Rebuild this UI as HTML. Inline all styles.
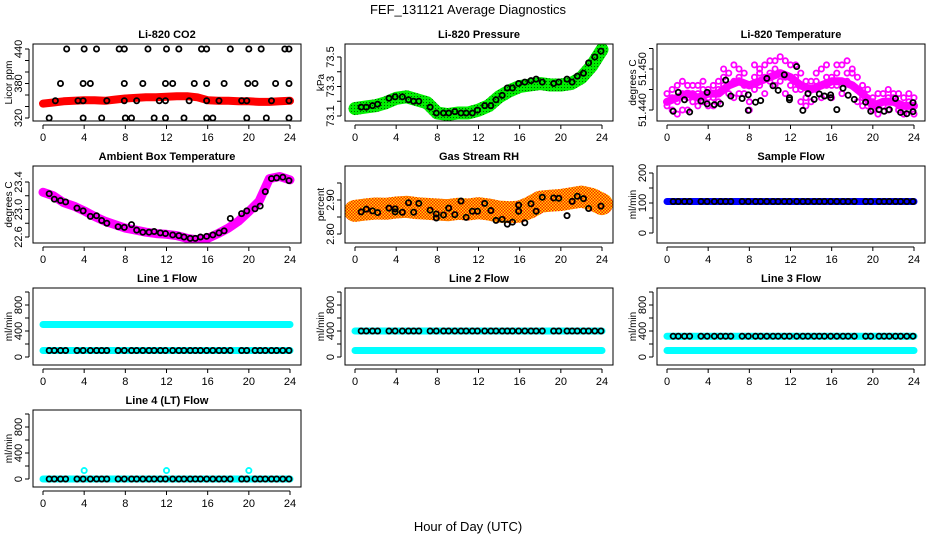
<!DOCTYPE html>
<html><head><meta charset="utf-8">
<style>
body{margin:0;background:#fff;}
svg{display:block;font-family:"Liberation Sans",Arial,sans-serif;}
.t{font-size:11px;font-weight:bold;text-anchor:middle;}
.tk{font-size:11px;}
</style></head>
<body>
<svg id="chart" width="936" height="540" viewBox="0 0 936 540">
<defs>
<pattern id="chk" width="3" height="3" patternUnits="userSpaceOnUse"><rect width="3" height="3" fill="#ffd700"/><rect width="1.5" height="1.5" fill="#ff2000"/><rect x="1.5" y="1.5" width="1.5" height="1.5" fill="#ff2000"/></pattern>
<pattern id="gdot" width="3" height="3" patternUnits="userSpaceOnUse"><rect width="3" height="3" fill="#00ee00"/><rect width="1" height="1" fill="#006000"/></pattern>
</defs>
<text x="468" y="14" font-size="13" text-anchor="middle">FEF_131121  Average Diagnostics</text>
<text x="468" y="531" font-size="13" text-anchor="middle">Hour of Day (UTC)</text>
</svg>
<script>
// ---- data ----
const hoursH = [0,1,2,3,4,5,6,7,8,9,10,11,12,13,14,15,16,17,18,19,20,21,22,23,24];
const co2Band = [345,347,349,350,351,351,350,352,354,355,356,356,357,358,358,356,351,350,350,349,349,348,348,349,350];
const co2Hi = [2.3,4,5.2,7.4,7.9,10.2,12,13.2,15.4,15.9,18.2,20,21.2,23.5,23.9];
const co2Mid = [1.7,3.9,4.6,7.9,9.7,11.9,12.6,14.7,15.9,17.6,19.9,20.6,22.6,23.9];
const co2Lo = [1.2,3.4,3.9,6.2,7.9,9.1,11.3,11.9,14.2,15.9,17.1,19.3,19.8,22.2,23.9];
const co2Min = [0.6,3.9,5.7,8,8.6,10.8,11.9,13.7,15.9,16.5,19.8,21.7,23.9];
const co2Levels = [440,380,350,320];
const presBand = [73.15,73.16,73.17,73.19,73.22,73.23,73.21,73.19,73.12,73.11,73.12,73.12,73.14,73.17,73.23,73.27,73.30,73.31,73.32,73.31,73.31,73.32,73.36,73.44,73.55];
const presPtH = [0.6,1.1,1.7,2.2,3.3,3.9,4.6,5.2,5.7,6.2,7.3,7.9,8.6,9.1,9.7,10.3,10.8,11.4,11.9,12.6,13.2,13.7,14.3,14.8,15.3,15.9,16.5,17.1,17.6,18.2,19.3,19.8,20.6,21.1,21.6,22.2,22.7,23.3,23.9];
const presPt = [73.16,73.16,73.17,73.18,73.22,73.23,73.23,73.21,73.20,73.20,73.16,73.12,73.12,73.12,73.13,73.12,73.12,73.12,73.14,73.17,73.17,73.21,73.24,73.29,73.29,73.32,73.33,73.34,73.35,73.33,73.32,73.33,73.35,73.33,73.37,73.39,73.46,73.50,73.54];
const tempBandH = [0,0.5,1,1.5,2,2.5,3,3.5,4,4.5,5,5.5,6,6.5,7,7.5,8,8.5,9,9.5,10,10.5,11,11.5,12,12.5,13,13.5,14,14.5,15,15.5,16,16.5,17,17.5,18,18.5,19,19.5,20,20.5,21,21.5,22,22.5,23,23.5,24];
const tempA = [51.441,51.443,51.446,51.440,51.443,51.444,51.446,51.442,51.445,51.443,51.447,51.446,51.449,51.447,51.448,51.444,51.446,51.448,51.450,51.451,51.449,51.452,51.447,51.452,51.451,51.448,51.445,51.443,51.447,51.449,51.450,51.446,51.448,51.449,51.451,51.449,51.446,51.445,51.443,51.441,51.443,51.441,51.444,51.443,51.442,51.440,51.441,51.440,51.441];
const tempB = [51.444,51.440,51.442,51.447,51.440,51.446,51.441,51.447,51.441,51.446,51.442,51.450,51.444,51.451,51.444,51.449,51.442,51.451,51.446,51.448,51.452,51.446,51.453,51.448,51.446,51.451,51.442,51.447,51.442,51.445,51.446,51.451,51.443,51.446,51.447,51.452,51.449,51.442,51.446,51.443,51.440,51.444,51.442,51.440,51.443,51.444,51.439,51.442,51.443];
const tempC = [51.442,51.445,51.439,51.444,51.446,51.442,51.444,51.445,51.443,51.441,51.445,51.448,51.446,51.443,51.450,51.446,51.440,51.445,51.449,51.444,51.447,51.450,51.449,51.444,51.448,51.445,51.449,51.441,51.445,51.447,51.443,51.448,51.446,51.451,51.444,51.447,51.450,51.448,51.441,51.445,51.442,51.439,51.441,51.445,51.444,51.441,51.443,51.444,51.439];
const tempPtH = [0.6,1.1,1.7,2.2,3.3,3.9,3.9,4.6,5.2,5.7,6.2,7.3,7.9,7.9,8.6,9.1,9.7,10.3,10.8,11.4,11.9,11.9,12.6,13.2,13.7,14.3,14.8,15.3,15.9,15.9,16.5,17.1,17.6,18.2,19.3,19.8,20.6,21.1,21.6,22.2,22.7,23.3,23.9,23.9];
const tempPt = [51.4397,51.4443,51.4425,51.4395,51.4422,51.4443,51.4415,51.4413,51.4415,51.4473,51.4434,51.4428,51.4437,51.4399,51.4419,51.4423,51.4477,51.4459,51.4448,51.4486,51.4430,51.4425,51.4506,51.4399,51.4440,51.4426,51.4439,51.4434,51.4437,51.4430,51.4401,51.4453,51.4436,51.4426,51.4419,51.4397,51.4401,51.4397,51.4401,51.4428,51.4394,51.4391,51.4418,51.4396];
const tempMid = [51.442,51.443,51.444,51.443,51.444,51.444,51.446,51.447,51.446,51.447,51.448,51.449,51.448,51.446,51.445,51.446,51.447,51.447,51.446,51.444,51.441,51.442,51.442,51.441,51.441];
const ambBand = [23.25,23.2,23.1,23.05,22.98,22.9,22.83,22.78,22.73,22.70,22.67,22.65,22.64,22.62,22.58,22.56,22.58,22.65,22.73,22.83,22.97,23.12,23.45,23.48,23.43];
const ambPt = [23.23,23.15,23.13,23.11,23.02,22.98,22.90,22.91,22.84,22.80,22.75,22.74,22.78,22.70,22.67,22.67,22.68,22.66,22.65,22.63,22.62,22.60,22.58,22.58,22.60,22.61,22.63,22.66,22.69,22.87,22.94,22.98,23.01,23.05,23.26,23.45,23.46,23.47,23.42];
const rhBand = [2.868,2.872,2.875,2.874,2.878,2.880,2.876,2.874,2.872,2.870,2.874,2.872,2.876,2.872,2.866,2.864,2.866,2.878,2.895,2.898,2.900,2.905,2.910,2.903,2.888];
const rhPt = [2.865,2.873,2.868,2.863,2.876,2.874,2.865,2.864,2.892,2.864,2.890,2.870,2.847,2.859,2.856,2.876,2.857,2.897,2.849,2.867,2.867,2.890,2.869,2.840,2.843,2.829,2.835,2.867,2.885,2.833,2.889,2.867,2.908,2.906,2.905,2.854,2.896,2.911,2.904,2.875,2.882];
const rhPtH = [0.6,1.1,1.7,2.2,3.3,3.9,3.9,4.6,5.2,5.7,6.2,7.3,7.9,7.9,8.6,9.1,9.7,10.3,10.8,11.4,11.9,12.6,13.2,13.7,14.3,14.8,15.3,15.9,15.9,16.5,17.1,17.6,18.2,19.3,19.8,20.6,21.1,21.6,22.2,22.7,23.9];
const flowPtH = [0.6,1.1,1.7,2.2,3.3,3.9,4.6,5.2,5.7,6.2,7.3,7.9,8.6,9.1,9.7,10.3,10.8,11.4,11.9,12.6,13.2,13.7,14.3,14.8,15.3,15.9,16.5,17.1,17.6,18.2,19.3,19.8,20.6,21.1,21.6,22.2,22.7,23.3,23.9];
const sampleFlow = 105;
const line1Hi = 500, line1Lo = 100;
const line2Hi = 400, line2Lo = 100;
const line3Hi = 320, line3Lo = 100;
const line4Lo = 0, line4Spike = 130;
const spikeH = [4,12,20];

// ---- drawing ----
const svg = document.getElementById('chart');
const NS = 'http://www.w3.org/2000/svg';
function mk(tag, attrs, parent){const e=document.createElementNS(NS,tag);for(const k in attrs)e.setAttribute(k,attrs[k]);(parent||svg).appendChild(e);return e;}

function panel(col,row,title,ylab,vmin,ymin,vmax,ymax,ticks,labels,name){
  const cx=[0,312,624][col], dy=row*122;
  const g=mk('g',{});
  
  
  const bx0=33+cx, bx1=301+cx, by0=44+dy, by1=121+dy;
  const X=h=>43+cx+h*(247/24);
  const Y=v=>ymin+(v-vmin)*(ymax-ymin)/(vmax-vmin);
  const tt=mk('text',{x:167+cx,y:38+dy,class:'t'},g);tt.textContent=title;
  
  
  const yl=mk('text',{x:0,y:0,'font-size':'10',transform:`translate(${cx+12},${(by0+by1)/2}) rotate(-90)`,'text-anchor':'middle'},g);yl.textContent=ylab;
  
  
  const clip=mk('clipPath',{id:'c'+name},g);
  mk('rect',{x:bx0,y:by0,width:bx1-bx0,height:by1-by0},clip);
  const plot=mk('g',{'clip-path':`url(#c${name})`},g);
  const axis=mk('g',{},g);
  mk('rect',{x:bx0,y:by0,width:bx1-bx0,height:by1-by0,fill:'none',stroke:'#000','stroke-width':1},axis);
  mk('line',{x1:X(0),x2:X(24),y1:by1+4,y2:by1+4,stroke:'#000'},axis);
  for(let h=0;h<=24;h+=4){
    mk('line',{x1:X(h),x2:X(h),y1:by1+4,y2:by1+8,stroke:'#000'},axis);
    const t=mk('text',{x:X(h),y:by1+20,class:'tk','text-anchor':'middle'},axis);t.textContent=h;
    
    
  }
  const vis=ticks.filter(v=>Y(v)>=by0-1&&Y(v)<=by1+1);
  mk('line',{x1:bx0-4,x2:bx0-4,y1:Y(vis[0]),y2:Y(vis[vis.length-1]),stroke:'#000'},axis);
  ticks.forEach((v,i)=>{
    if(Y(v)<by0-1||Y(v)>by1+1)return;
    mk('line',{x1:bx0-8,x2:bx0-4,y1:Y(v),y2:Y(v),stroke:'#000'},axis);
    if(labels[i]!==''){const t=mk('text',{x:0,y:0,class:'tk','text-anchor':'middle',transform:`translate(${bx0-11},${Y(v)}) rotate(-90)`},axis);t.textContent=labels[i];
      
      }
  });
  return {g:plot,X,Y};
}
function band(p,hs,vs,color,w){
  const d=hs.map((h,i)=>(i?'L':'M')+p.X(h).toFixed(1)+','+p.Y(vs[i]).toFixed(1)).join('');
  const e=mk('path',{d,fill:'none',stroke:color,'stroke-width':w,'stroke-linecap':'round','stroke-linejoin':'round'},p.g);
  
  
}
function pts(p,hs,vs,color,r,sw){
  hs.forEach((h,i)=>{const v=Array.isArray(vs)?vs[i]:vs;
    const c=mk('circle',{cx:p.X(h),cy:p.Y(v),r:r,fill:'none',stroke:color,'stroke-width':sw||1.8},p.g);
    
    });
}
const flowTicks=[-200,0,200,400,600,800,1000], flowLab=['','0','','400','','800',''];

// CO2
let p=panel(0,0,'Li-820 CO2','Licor ppm',320,118,440,49,[320,340,360,380,400,420,440],['320','','','380','','','440'],'co2');
band(p,hoursH,co2Band,'#ff0000',8);
[co2Hi,co2Mid,co2Lo,co2Min].forEach((a,i)=>pts(p,a,co2Levels[i],'#000',2.6));
// Pressure
p=panel(1,0,'Li-820 Pressure','kPa',73.1,116,73.5,57,[73.1,73.2,73.3,73.4,73.5],['73.1','','73.3','','73.5'],'pressure');
band(p,hoursH,presBand,'url(#gdot)',13);
pts(p,presPtH,presPt,'#000',2.6);
// Li temp
p=panel(2,0,'Li-820 Temperature','degrees C',51.440,110,51.450,69,[51.440,51.445,51.450,51.455],['51.440','','51.450',''],'li820-temperature');
band(p,hoursH,tempMid,'#ff00ff',8);
pts(p,tempBandH,tempA,'#ff00ff',2.6,1.8);
pts(p,tempBandH,tempB,'#ff00ff',2.6,1.8);
pts(p,tempBandH,tempC,'#ff00ff',2.6,1.8);
pts(p,tempPtH,tempPt,'#000',2.6);
// Ambient
p=panel(0,1,'Ambient Box Temperature','degrees C',22.6,237,23.4,182,[22.6,22.8,23.0,23.2,23.4],['22.6','','23.0','','23.4'],'ambient-temperature');
band(p,hoursH,ambBand,'#ff00ff',9);
pts(p,flowPtH,ambPt,'#000',2.6);
// RH
p=panel(1,1,'Gas Stream RH','percent',2.80,234,2.90,200,[2.80,2.85,2.90,2.95],['2.80','','2.90',''],'gas-stream-rh');
band(p,hoursH,rhBand,'url(#chk)',22);
pts(p,rhPtH,rhPt,'#000',2.6);
// Sample flow
p=panel(2,1,'Sample Flow','ml/min',0,233,200,173,[-50,0,50,100,150,200],['','0','','100','','200'],'sample-flow');
band(p,[0,24],[sampleFlow,sampleFlow],'#0000ff',7);
pts(p,flowPtH,sampleFlow,'#000',2.6);
// Line 1
p=panel(0,2,'Line 1 Flow','ml/min',0,357,800,305,flowTicks,flowLab,'line1-flow');
band(p,[0,24],[line1Hi,line1Hi],'#00ffff',7);
band(p,[0,24],[line1Lo,line1Lo],'#00ffff',7);
pts(p,flowPtH,line1Lo,'#000',2.6);
// Line 2
p=panel(1,2,'Line 2 Flow','ml/min',0,357,800,305,flowTicks,flowLab,'line2-flow');
band(p,[0,24],[line2Hi,line2Hi],'#00ffff',7);
band(p,[0,24],[line2Lo,line2Lo],'#00ffff',7);
pts(p,flowPtH,line2Hi,'#000',2.6);
// Line 3
p=panel(2,2,'Line 3 Flow','ml/min',0,357,800,305,flowTicks,flowLab,'line3-flow');
band(p,[0,24],[line3Hi,line3Hi],'#00ffff',7);
band(p,[0,24],[line3Lo,line3Lo],'#00ffff',7);
pts(p,flowPtH,line3Hi,'#000',2.6);
// Line 4
p=panel(0,3,'Line 4 (LT) Flow','ml/min',0,479,800,427,flowTicks,flowLab,'line4-flow');
band(p,[0,24],[line4Lo,line4Lo],'#00ffff',7);
pts(p,spikeH,line4Spike,'#00ffff',2.6);
pts(p,flowPtH,line4Lo,'#000',2.6);
</script>
</body></html>
